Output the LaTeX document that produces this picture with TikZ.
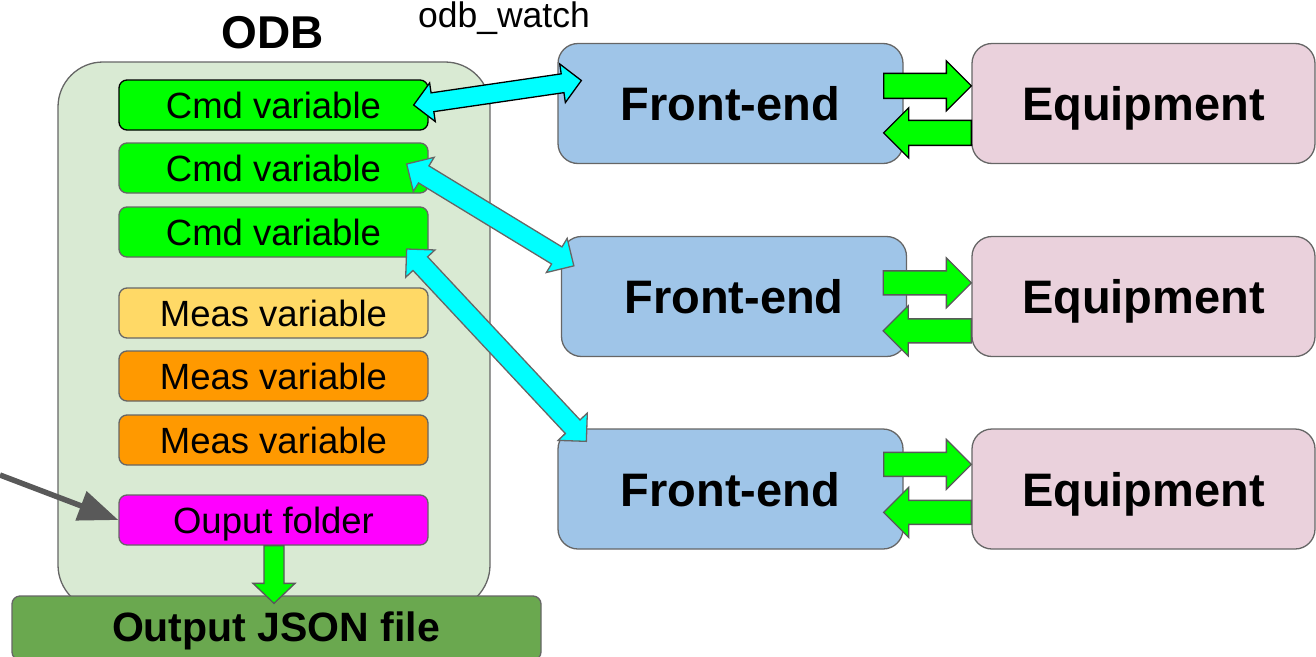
\documentclass[tikz,border=0pt]{standalone}
\usepackage{fontspec}
\setmainfont{Liberation Sans}
\usetikzlibrary{calc,arrows.meta}

\definecolor{edge}{HTML}{666666}
\definecolor{odbbg}{HTML}{D9EAD3}
\definecolor{cmdgreen}{HTML}{00FF00}
\definecolor{measyellow}{HTML}{FFD966}
\definecolor{measorange}{HTML}{FF9900}
\definecolor{foldermag}{HTML}{FF00FF}
\definecolor{jsongreen}{HTML}{6AA84F}
\definecolor{feblue}{HTML}{9FC5E8}
\definecolor{eqpink}{HTML}{EAD1DC}
\definecolor{linkcyan}{HTML}{00FFFF}
\definecolor{pointer}{HTML}{595959}

\newcommand\fsz[1]{\fontsize{#1}{#1}\selectfont}

% block arrow with one head: style, tail, tip, shaft half width, head half width, head length
\newcommand\onearrow[6]{%
  \coordinate (oa-h) at ($(#3)!#6!(#2)$);
  \draw[#1] ($(#2)!#4!90:(#3)$) -- ($(oa-h)!#4!90:(#3)$) -- ($(oa-h)!#5!90:(#3)$)
    -- (#3) -- ($(oa-h)!#5!-90:(#3)$) -- ($(oa-h)!#4!-90:(#3)$)
    -- ($(#2)!#4!-90:(#3)$) -- cycle;
}
% block arrow with a head at each end
\newcommand\twoarrow[6]{%
  \coordinate (ta-a) at ($(#2)!#6!(#3)$);
  \coordinate (ta-b) at ($(#3)!#6!(#2)$);
  \draw[#1] (#2) -- ($(ta-a)!#5!90:(#3)$) -- ($(ta-a)!#4!90:(#3)$)
    -- ($(ta-b)!#4!90:(#3)$) -- ($(ta-b)!#5!90:(#3)$) -- (#3)
    -- ($(ta-b)!#5!-90:(#3)$) -- ($(ta-b)!#4!-90:(#3)$)
    -- ($(ta-a)!#4!-90:(#3)$) -- ($(ta-a)!#5!-90:(#3)$) -- cycle;
}

\tikzset{
  var/.style={draw=edge, line width=1.3pt, rounded corners=8pt, inner sep=0pt,
    minimum width=309pt, minimum height=50pt, font=\fsz{36.5},
    text height=26pt, text depth=0pt},
  bigbox/.style={draw=edge, line width=1.3pt, rounded corners=20pt, inner sep=0pt,
    minimum width=345pt, minimum height=120pt, font=\bfseries\fsz{47},
    text height=34pt, text depth=0pt},
  greenflow/.style={fill=cmdgreen, draw=pointer, line width=1.3pt, line join=miter},
  cyanlink/.style={fill=linkcyan, draw=edge, line width=1.3pt, line join=miter},
}

\begin{document}
\begin{tikzpicture}[x=1pt,y=-1pt]
\useasboundingbox (0,0) rectangle (1316,656);

% ODB container
\node[draw=edge, fill=odbbg, line width=1.3pt, rounded corners=45pt,
      minimum width=432pt, minimum height=548pt, inner sep=0pt] (odb) at (274,336) {};
\node[anchor=base, font=\bfseries\fsz{46}] (odbtitle) at (273,48) {ODB};
\node[anchor=base, font=\fsz{35.5}] (watch) at (504,27) {odb\_watch};

% variables
\node[var, fill=cmdgreen, draw=black] (cmd1) at (273.5,105) {Cmd variable};
\node[var, fill=cmdgreen] (cmd2) at (273.5,168) {Cmd variable};
\node[var, fill=cmdgreen] (cmd3) at (273.5,232) {Cmd variable};
\node[var, fill=measyellow] (meas1) at (273.5,313) {Meas variable};
\node[var, fill=measorange] (meas2) at (273.5,376) {Meas variable};
\node[var, fill=measorange] (meas3) at (273.5,440) {Meas variable};
\node[var, fill=foldermag] (folder) at (273.5,520) {Ouput folder};

% output file
\node[draw=edge, fill=jsongreen, line width=1.3pt, rounded corners=8pt, inner sep=0pt,
      minimum width=529pt, minimum height=64pt] (json) at (276.5,628) {};
\node[anchor=base, font=\bfseries\fsz{41}] (jsontext) at (276,641) {Output JSON file};

% front-ends and equipment
\node[bigbox, fill=feblue] (fe1) at (730.5,103.5) {Front-end};
\node[bigbox, fill=feblue] (fe2) at (734,296.5) {Front-end};
\node[bigbox, fill=feblue] (fe3) at (730.5,489) {Front-end};
\node[bigbox, fill=eqpink, minimum width=343pt] (eq1) at (1143.5,103.5) {Equipment};
\node[bigbox, fill=eqpink, minimum width=343pt] (eq2) at (1143.5,296.5) {Equipment};
\node[bigbox, fill=eqpink, minimum width=343pt] (eq3) at (1143.5,489) {Equipment};

% front-end <-> equipment traffic
\coordinate (f1o) at ($(fe1.north east)+(-20,43)$);
\coordinate (e1i) at ($(eq1.north west)+(0,43)$);
\coordinate (e1o) at ($(eq1.north west)+(0,90)$);
\coordinate (f1i) at ($(fe1.north east)+(-20,90)$);
\onearrow{greenflow, draw=black}{f1o}{e1i}{12.5pt}{25pt}{25pt}
\onearrow{greenflow, draw=black}{e1o}{f1i}{12.5pt}{25pt}{25pt}

\coordinate (f2o) at ($(fe2.north east)+(-24,47)$);
\coordinate (e2i) at ($(eq2.north west)+(0,47)$);
\coordinate (e2o) at ($(eq2.north west)+(0,95)$);
\coordinate (f2i) at ($(fe2.north east)+(-24,95)$);
\onearrow{greenflow}{f2o}{e2i}{12pt}{25pt}{25pt}
\onearrow{greenflow}{e2o}{f2i}{12pt}{25pt}{25pt}

\coordinate (f3o) at ($(fe3.north east)+(-20,36)$);
\coordinate (e3i) at ($(eq3.north west)+(0,36)$);
\coordinate (e3o) at ($(eq3.north west)+(0,84)$);
\coordinate (f3i) at ($(fe3.north east)+(-20,84)$);
\onearrow{greenflow}{f3o}{e3i}{12pt}{25pt}{25pt}
\onearrow{greenflow}{e3o}{f3i}{12pt}{25pt}{25pt}

% odb_watch links between command variables and front-ends
\coordinate (c1) at ($(cmd1.east)+(-15,0)$);
\coordinate (w1) at ($(fe1.west)+(24,-23)$);
\twoarrow{cyanlink, draw=black}{c1}{w1}{9.5pt}{19.5pt}{19pt}

\coordinate (c2) at ($(cmd2.east)+(-22,-4)$);
\coordinate (w2) at ($(fe2.north west)+(13,30)$);
\twoarrow{cyanlink}{c2}{w2}{10pt}{20pt}{20pt}

\coordinate (c3) at ($(cmd3.east)+(-22,17)$);
\coordinate (w3) at ($(fe3.north west)+(29,13)$);
\twoarrow{cyanlink}{c3}{w3}{10pt}{20pt}{20pt}

% folder to output file
\coordinate (fo) at ($(folder.south)+(0.5,0)$);
\coordinate (js) at ($(json.north)+(-2.5,8)$);
\onearrow{greenflow}{fo}{js}{10pt}{21pt}{20pt}

% folder set from outside
\coordinate (ext) at (0,475);
\draw[pointer, line width=5.5pt, -{Triangle[length=40pt,width=30pt]}] (ext) -- (folder.west);

\end{tikzpicture}
\end{document}
